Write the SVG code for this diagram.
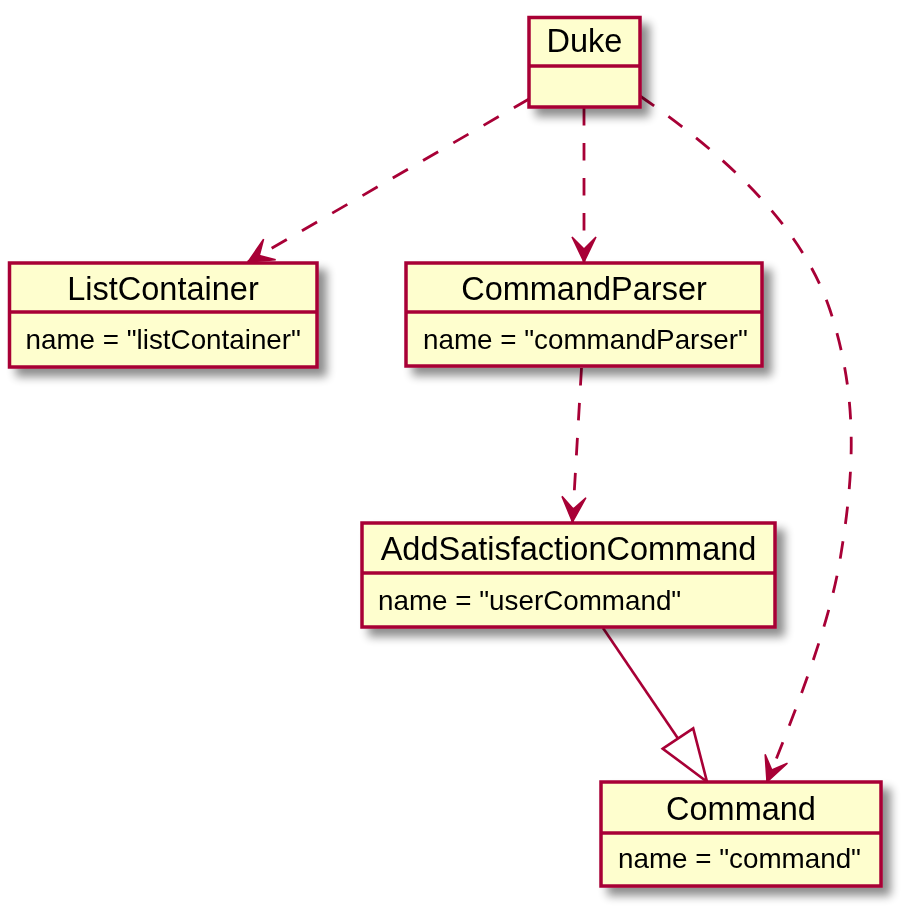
<svg xmlns="http://www.w3.org/2000/svg" width="904" height="912" viewBox="0 0 904 912">
<style>
.box{fill:#FEFECE;stroke:#A80036;stroke-width:3.5}
.sep{stroke:#A80036;stroke-width:3.5}
.title{font-family:"Liberation Sans",Arial,sans-serif;font-size:32.5px;fill:#000;text-anchor:middle}
.attr{font-family:"Liberation Sans",Arial,sans-serif;font-size:27.8px;fill:#000}
.dep{fill:none;stroke:#A80036;stroke-width:2.8;stroke-dasharray:17.5,17.5}
.sol{fill:none;stroke:#A80036;stroke-width:2.6}
</style>
<defs>
<filter id="sh" x="-20%" y="-20%" width="150%" height="160%">
<feGaussianBlur in="SourceAlpha" stdDeviation="5"/>
<feOffset dx="8" dy="8" result="b"/>
<feComponentTransfer><feFuncA type="linear" slope="0.45"/></feComponentTransfer>
<feMerge><feMergeNode/><feMergeNode in="SourceGraphic"/></feMerge>
</filter>
<marker id="ah" markerUnits="userSpaceOnUse" viewBox="-28 -14 30 28" refX="0" refY="0" markerWidth="30" markerHeight="28" orient="auto">
<path d="M0,0 L-25,-12 L-13,0 L-25,12 Z" fill="#A80036" stroke="#A80036" stroke-width="1.5" stroke-linejoin="miter"/>
</marker>
</defs>
<rect width="904" height="912" fill="#FFFFFF"/>
<g id="connectors">
<path class="dep" d="M529,99 L248,262" marker-end="url(#ah)"/>
<path class="dep" d="M584,108 L584,262" marker-end="url(#ah)"/>
<path class="dep" d="M581.5,368 L572.5,522" marker-end="url(#ah)"/>
<path class="dep" d="M640,96 C715,148 800,220 830,310 C858,395 855,470 840,560 C828,630 795,712 767,782" marker-end="url(#ah)"/>
<path class="sol" d="M603,628 L678,738.5"/>
<polygon points="662.8,748.7 693.2,728.3 707,781.7" fill="#FFFFFF" stroke="#A80036" stroke-width="2.6"/>
</g>
<g id="Duke" filter="url(#sh)">
<rect class="box" x="529" y="17.5" width="111" height="89.5"/>
<line class="sep" x1="529" y1="66" x2="640" y2="66"/>
<text class="title" x="584.5" y="52">Duke</text>
</g>
<g id="ListContainer" filter="url(#sh)">
<rect class="box" x="9.5" y="263" width="307.5" height="104"/>
<line class="sep" x1="9.5" y1="312" x2="317" y2="312"/>
<text class="title" x="163" y="300">ListContainer</text>
<text class="attr" x="25.5" y="349">name = "listContainer"</text>
</g>
<g id="CommandParser" filter="url(#sh)">
<rect class="box" x="406" y="263" width="356" height="103"/>
<line class="sep" x1="406" y1="312" x2="762" y2="312"/>
<text class="title" x="584" y="300">CommandParser</text>
<text class="attr" x="423" y="349">name = "commandParser"</text>
</g>
<g id="AddSatisfactionCommand" filter="url(#sh)">
<rect class="box" x="362" y="523" width="413" height="104"/>
<line class="sep" x1="362" y1="573" x2="775" y2="573"/>
<text class="title" x="568.5" y="560">AddSatisfactionCommand</text>
<text class="attr" x="378" y="610">name = "userCommand"</text>
</g>
<g id="Command" filter="url(#sh)">
<rect class="box" x="601" y="782" width="280" height="104"/>
<line class="sep" x1="601" y1="833" x2="881" y2="833"/>
<text class="title" x="741" y="820">Command</text>
<text class="attr" x="618" y="868">name = "command"</text>
</g>
</svg>
